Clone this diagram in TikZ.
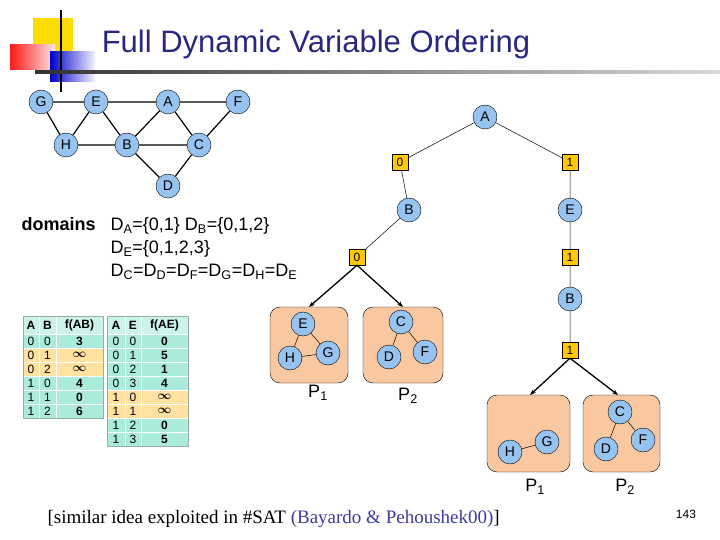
\documentclass[tikz,border=0pt]{standalone}
\usepackage{fontspec}
\setmainfont{Liberation Sans}
\newfontfamily\serifx{Liberation Serif}
\usetikzlibrary{arrows.meta}
\definecolor{ttl}{RGB}{40,40,130}
\definecolor{nodeblue}{RGB}{150,195,240}
\definecolor{boxy}{RGB}{255,200,0}
\definecolor{part}{RGB}{250,200,160}
\definecolor{teal}{RGB}{170,235,220}
\definecolor{hil}{RGB}{255,225,160}
\definecolor{refc}{RGB}{60,60,160}
\newcommand{\infx}{{\boldmath$\infty$}}
\tikzset{
 vnode/.style={circle,draw=black,fill=nodeblue,minimum size=24pt,inner sep=0pt,font=\fontsize{14}{14}\selectfont},
 vbox/.style={rectangle,draw=black,fill=boxy,minimum size=16pt,inner sep=0pt,font=\fontsize{12}{12}\selectfont},
 pbox/.style={draw=black,fill=part,rounded corners=10pt},
 gedge/.style={line width=1.2pt},
 tedge/.style={line width=0.5pt},
 arr/.style={line width=1.3pt,-{Stealth[length=6pt]}},
 cell/.style={inner sep=0pt,font=\fontsize{12}{12}\selectfont},
 bcell/.style={inner sep=0pt,font=\bfseries\fontsize{12}{12}\selectfont},
}
\begin{document}
\begin{tikzpicture}[x=1pt,y=-1pt]
\useasboundingbox (0,0) rectangle (720,540);
\fill[white] (0,0) rectangle (720,540);
% logo
\fill[yellow!80!orange] (33,18) rectangle (73,58);
\shade[left color=red!90,right color=red!10] (10,45) rectangle (55,70);
\shade[left color=blue!80!black,right color=blue!5] (50,52) rectangle (95,82);
\draw[line width=2pt] (61,10) -- (61,92);
\shade[left color=black!80,right color=black!15] (35,71) rectangle (720,73.5);
\node[font=\fontsize{31}{31}\selectfont,text=ttl] (title) at (316,44) {Full Dynamic Variable Ordering};
% constraint graph
\node[vnode] (G) at (41,102) {G};
\node[vnode] (E) at (96,102) {E};
\node[vnode] (A) at (168,102) {A};
\node[vnode] (F) at (238,102) {F};
\node[vnode] (H) at (66,145) {H};
\node[vnode] (B) at (127,145) {B};
\node[vnode] (C) at (199,145) {C};
\node[vnode] (D) at (168,186) {D};
\draw[gedge] (G)--(E) (E)--(A) (A)--(F) (G)--(H) (H)--(E) (E)--(B) (H)--(B) (B)--(A) (A)--(C) (B)--(C) (C)--(F) (B)--(D) (D)--(C);
% domains
\node[anchor=west,font=\bfseries\fontsize{18}{18}\selectfont] (dom) at (18,224) {domains};
\node[anchor=west,font=\fontsize{18}{18}\selectfont] (d1) at (107,226) {D$_{\mathrm{A}}$=\{0,1\} D$_{\mathrm{B}}$=\{0,1,2\}};
\node[anchor=west,font=\fontsize{18}{18}\selectfont] (d2) at (107,249) {D$_{\mathrm{E}}$=\{0,1,2,3\}};
\node[anchor=west,font=\fontsize{18}{18}\selectfont] (d3) at (107,272) {D$_{\mathrm{C}}$=D$_{\mathrm{D}}$=D$_{\mathrm{F}}$=D$_{\mathrm{G}}$=D$_{\mathrm{H}}$=D$_{\mathrm{E}}$};
% table 1
\fill[teal!60] (23,316) rectangle (103,334);
\foreach \r/\a/\b/\f/\h in {0/0/0/3/0,1/0/1/\infx/1,2/0/2/\infx/1,3/1/0/4/0,4/1/1/0/0,5/1/2/6/0}{
  \ifnum\h=1 \fill[hil] (23,334+\r*14) rectangle (103,348+\r*14);\else \fill[teal] (23,334+\r*14) rectangle (103,348+\r*14);\fi
  \node[cell] at (31,341+\r*14) {\a};
  \node[cell] at (47.5,341+\r*14) {\b};
  \node[bcell] at (79.5,341+\r*14) {\f};
}
\foreach \y in {334,348,362,376,390,404}{\draw[white,line width=0.8pt] (23,\y)--(103,\y);}
\foreach \x in {39,56}{\draw[white,line width=0.8pt] (\x,316)--(\x,418);}
\draw[teal!50!black!60,line width=0.6pt] (23,316) rectangle (103,418);
\node[bcell] at (31,325) {A};
\node[bcell] at (47.5,325) {B};
\node[bcell] at (79.5,325) {f(AB)};
% table 2
\fill[teal!60] (107,316) rectangle (188,334);
\foreach \r/\a/\b/\f/\h in {0/0/0/0/0,1/0/1/5/0,2/0/2/1/0,3/0/3/4/0,4/1/0/\infx/1,5/1/1/\infx/1,6/1/2/0/0,7/1/3/5/0}{
  \ifnum\h=1 \fill[hil] (107,334+\r*14) rectangle (188,348+\r*14);\else \fill[teal] (107,334+\r*14) rectangle (188,348+\r*14);\fi
  \node[cell] at (116,341+\r*14) {\a};
  \node[cell] at (133,341+\r*14) {\b};
  \node[bcell] at (164.5,341+\r*14) {\f};
}
\foreach \y in {334,348,362,376,390,404,418,432}{\draw[white,line width=0.8pt] (107,\y)--(188,\y);}
\foreach \x in {125,141}{\draw[white,line width=0.8pt] (\x,316)--(\x,446);}
\draw[teal!50!black!60,line width=0.6pt] (107,316) rectangle (188,446);
\node[bcell] at (116,325) {A};
\node[bcell] at (133,325) {E};
\node[bcell] at (164.5,325) {f(AE)};
% search tree
\node[vnode] (tA) at (485,117) {A};
\node[vbox] (t0) at (400,162) {0};
\node[vbox] (t1) at (570,162) {1};
\node[vnode] (tB) at (409,210) {B};
\node[vnode] (tE) at (570,210) {E};
\node[vbox] (t00) at (357,257) {0};
\node[vbox] (t11) at (570,257) {1};
\node[vnode] (tB2) at (570,299) {B};
\node[vbox] (t111) at (570,350) {1};
\draw[tedge] (tA)--(t0) (tA)--(t1) (t0)--(tB) (t1)--(tE) (tB)--(t00) (tE)--(t11) (t11)--(tB2) (tB2)--(t111);
% left partitions
\draw[pbox] (270,307) rectangle (348,383);
\draw[pbox] (363,307) rectangle (443,383);
\coordinate (p1t) at (309,307);
\coordinate (p2t) at (403,307);
\draw[arr] (t00.south) -- (p1t);
\draw[arr] (t00.south) -- (p2t);
\node[vnode] (lE) at (303,324) {E};
\node[vnode] (lH) at (290,358) {H};
\node[vnode] (lG) at (328,353) {G};
\draw[tedge] (lE)--(lH) (lE)--(lG) (lH)--(lG);
\node[vnode] (lC) at (401,322) {C};
\node[vnode] (lD) at (389,357) {D};
\node[vnode] (lF) at (425,352) {F};
\draw[tedge] (lC)--(lD) (lC)--(lF);
\node[font=\fontsize{18}{18}\selectfont] (lp1) at (318,393) {P$_{\mathrm{1}}$};
\node[font=\fontsize{18}{18}\selectfont] (lp2) at (408,396) {P$_{\mathrm{2}}$};
% right partitions
\draw[pbox] (487,395) rectangle (570,472);
\draw[pbox] (583,395) rectangle (660,472);
\coordinate (q1t) at (530,395);
\coordinate (q2t) at (618,395);
\draw[arr] (t111.south) -- (q1t);
\draw[arr] (t111.south) -- (q2t);
\node[vnode] (rH) at (510,452) {H};
\node[vnode] (rG) at (547,442) {G};
\draw[tedge] (rH)--(rG);
\node[vnode] (rC) at (620,412) {C};
\node[vnode] (rD) at (606,449) {D};
\node[vnode] (rF) at (643,440) {F};
\draw[tedge] (rC)--(rD) (rC)--(rF);
\node[font=\fontsize{18}{18}\selectfont] (rp1) at (535,487) {P$_{\mathrm{1}}$};
\node[font=\fontsize{18}{18}\selectfont] (rp2) at (625,487) {P$_{\mathrm{2}}$};
% bottom
\node[anchor=west,font=\serifx\fontsize{19}{19}\selectfont] (ref) at (44,519) {[similar idea exploited in \#SAT \textcolor{refc}{(Bayardo \& Pehoushek00)}]};
\node[font=\fontsize{12}{12}\selectfont] (pg) at (686,514) {143};
\end{tikzpicture}
\end{document}
